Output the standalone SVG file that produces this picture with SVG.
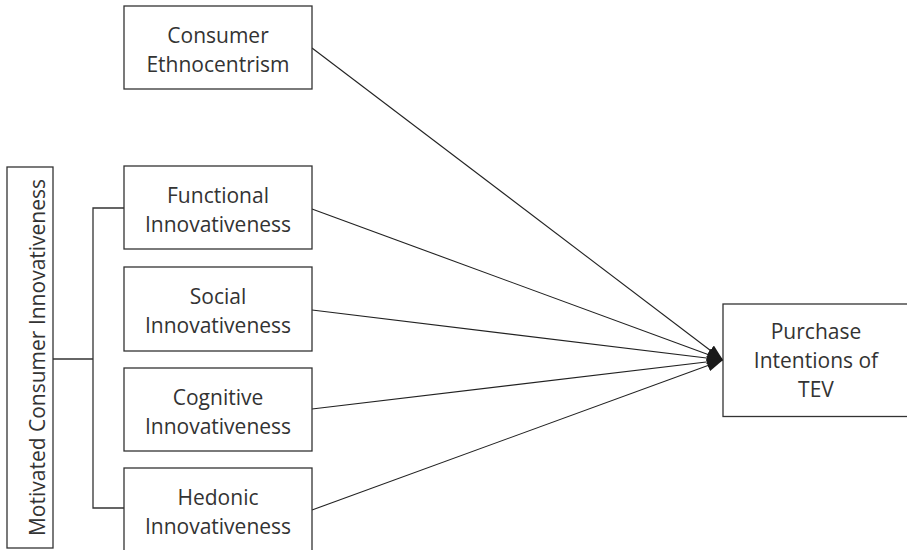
<svg xmlns="http://www.w3.org/2000/svg" width="907" height="550" viewBox="0 0 907 550">
  <style>
    .box { fill: #ffffff; stroke: #333333; stroke-width: 1.3; }
    .lbl { font-family: "Open Sans", "Noto Sans", sans-serif; font-size: 21px; fill: #333333; text-anchor: middle; }
    .edge { fill: none; stroke: #222222; stroke-width: 1.1; }
    .brk { fill: none; stroke: #333333; stroke-width: 1.3; }
  </style>
  <defs>
    <marker id="arr" viewBox="0 0 16 12" refX="16" refY="6" markerWidth="16" markerHeight="12" markerUnits="userSpaceOnUse" orient="auto">
      <path d="M0,0 L16,6 L0,12 z" fill="#1a1a1a"/>
    </marker>
  </defs>
  <rect width="907" height="550" fill="#ffffff"/>

  <g id="connectors">
    <polyline class="brk" points="53,359 93,359"/>
    <polyline class="brk" points="124,208 93,208 93,508 124,508"/>
    <line class="edge" x1="312" y1="48" x2="723" y2="360" marker-end="url(#arr)"/>
    <line class="edge" x1="312" y1="209" x2="723" y2="360" marker-end="url(#arr)"/>
    <line class="edge" x1="312" y1="310" x2="723" y2="360" marker-end="url(#arr)"/>
    <line class="edge" x1="312" y1="409" x2="723" y2="360" marker-end="url(#arr)"/>
    <line class="edge" x1="312" y1="510" x2="723" y2="360" marker-end="url(#arr)"/>
  </g>

  <g id="mci">
    <rect class="box" x="7" y="167" width="46" height="381"/>
    <text class="lbl" transform="translate(45,357.5) rotate(-90)" x="0" y="0">Motivated Consumer Innovativeness</text>
  </g>

  <g id="ethnocentrism">
    <rect class="box" x="124" y="6" width="188" height="83"/>
    <text class="lbl" x="218" y="42.5">Consumer</text>
    <text class="lbl" x="218" y="71.5">Ethnocentrism</text>
  </g>

  <g id="functional">
    <rect class="box" x="124" y="166" width="188" height="83"/>
    <text class="lbl" x="218" y="202.5">Functional</text>
    <text class="lbl" x="218" y="231.5">Innovativeness</text>
  </g>

  <g id="social">
    <rect class="box" x="124" y="267" width="188" height="84"/>
    <text class="lbl" x="218" y="303.5">Social</text>
    <text class="lbl" x="218" y="332.5">Innovativeness</text>
  </g>

  <g id="cognitive">
    <rect class="box" x="124" y="368" width="188" height="83"/>
    <text class="lbl" x="218" y="404.5">Cognitive</text>
    <text class="lbl" x="218" y="433.5">Innovativeness</text>
  </g>

  <g id="hedonic">
    <rect class="box" x="124" y="468" width="188" height="100"/>
    <text class="lbl" x="218" y="504.5">Hedonic</text>
    <text class="lbl" x="218" y="533.5">Innovativeness</text>
  </g>

  <g id="purchase">
    <rect class="box" x="723" y="304" width="200" height="112.5"/>
    <text class="lbl" x="816" y="339">Purchase</text>
    <text class="lbl" x="816" y="368">Intentions of</text>
    <text class="lbl" x="816" y="397">TEV</text>
  </g>
</svg>
